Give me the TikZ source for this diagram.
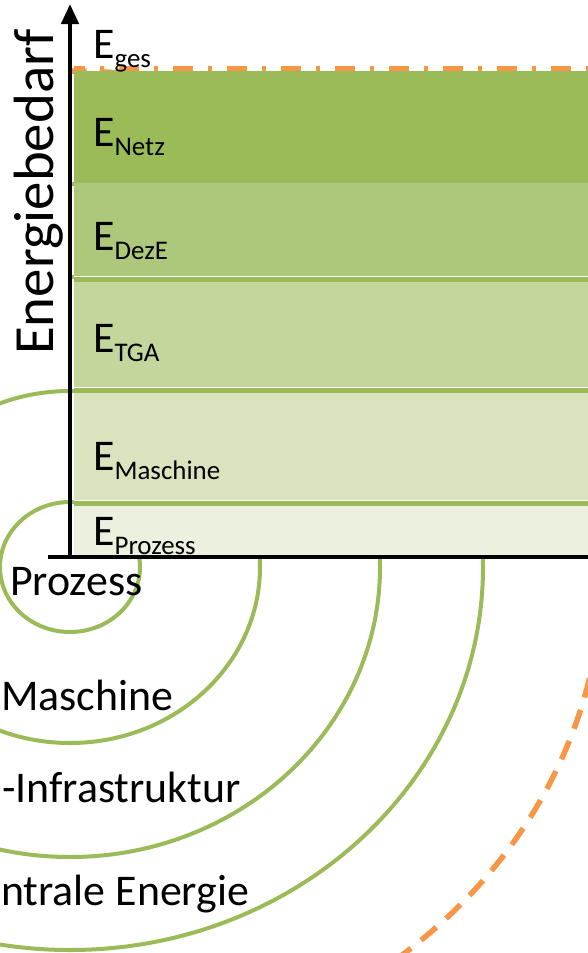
\documentclass[tikz,border=0pt]{standalone}
\usepackage{fontspec}
\setmainfont{Carlito}
\usetikzlibrary{arrows.meta}

\definecolor{netz}{HTML}{9BBB59}
\definecolor{deze}{HTML}{AEC87B}
\definecolor{tga}{HTML}{C3D69B}
\definecolor{masch}{HTML}{D9E4BF}
\definecolor{proz}{HTML}{EBF1DE}
\definecolor{ges}{HTML}{F79646}

% E with a lowered index
\newcommand{\Eidx}[1]{E\raisebox{-9bp}{\fontsize{27}{27}\selectfont #1}}

\begin{document}
\begin{tikzpicture}[x=1bp,y=-1bp,>={Triangle[length=20bp,width=17bp]}]
  \tikzset{ring/.style={draw=netz,line width=4bp},
           sep/.style={draw=netz,line width=5bp},
           big/.style={font=\fontsize{44}{50}\selectfont,inner sep=0pt},
           axis/.style={line width=4.5bp}}
  \useasboundingbox (0,0) rectangle (588,953);
  \clip (0,0) rectangle (588,953);
  \coordinate (o) at (70,567);
  % rings around the process
  \draw[ring] (o) ellipse [x radius=70bp,y radius=65bp];
  \draw[ring] (o) ellipse [x radius=190bp,y radius=176bp];
  \draw[ring] (o) ellipse [x radius=310bp,y radius=290bp];
  \draw[ring] (o) ellipse [x radius=413bp,y radius=383bp];
  \draw[ges,line width=5.5bp,dash pattern=on 20bp off 13bp] (o) ellipse [x radius=533bp,y radius=496bp];
  % white box behind the axis title hides the rings
  \fill[white] (0,0) rectangle (68,382);
  \node[rotate=90,anchor=base west,inner sep=0pt,
        font=\fontsize{57}{64}\selectfont] (ylab) at (53,355) {Energiebedarf};
  % stacked bands
  \fill[netz] (74,71) rectangle (588,183);
  \fill[deze] (74,183) rectangle (588,279);
  \fill[tga] (74,279) rectangle (588,391);
  \fill[masch] (74,391) rectangle (588,503);
  \fill[proz] (74,503) rectangle (588,557);
  \foreach \y in {279.5,390.5,503.5} {
    \draw[white,line width=1.2bp] (74,\y-3) -- (588,\y-3);
    \draw[sep] (74,\y) -- (588,\y);
  }
  \draw[ges,line width=5bp,dash pattern=on 20bp off 15bp on 4bp off 15bp,dash phase=9bp]
    (74,68.5) -- (588,68.5);
  \node[big,anchor=base west] (eges) at (93,58) {\Eidx{ges}};
  \node[big,anchor=base west] (enetz) at (93,146) {\Eidx{Netz}};
  \node[big,anchor=base west] (edeze) at (93,250) {\Eidx{DezE}};
  \node[big,anchor=base west] (etga) at (93,352) {\Eidx{TGA}};
  \node[big,anchor=base west] (emasch) at (93,470) {\Eidx{Maschine}};
  \node[big,anchor=base west] (eproz) at (93,545) {\Eidx{Prozess}};
  % ring names
  \node[big,anchor=base west] (lproz) at (10,595) {Prozess};
  \node[big,anchor=base west] (lmasch) at (1,710) {Maschine};
  \node[big,anchor=base west] (ltga) at (2,802) {-Infrastruktur};
  \node[big,anchor=base west] (ldez) at (1,905) {ntrale Energie};
  % axes
  \coordinate (x0) at (48,557);
  \coordinate (x1) at (588,557);
  \coordinate (y0) at (70,559);
  \coordinate (y1) at (70,4);
  \draw[axis] (x0) -- (x1);
  \draw[axis,->] (y0) -- (y1);
\end{tikzpicture}
\end{document}
